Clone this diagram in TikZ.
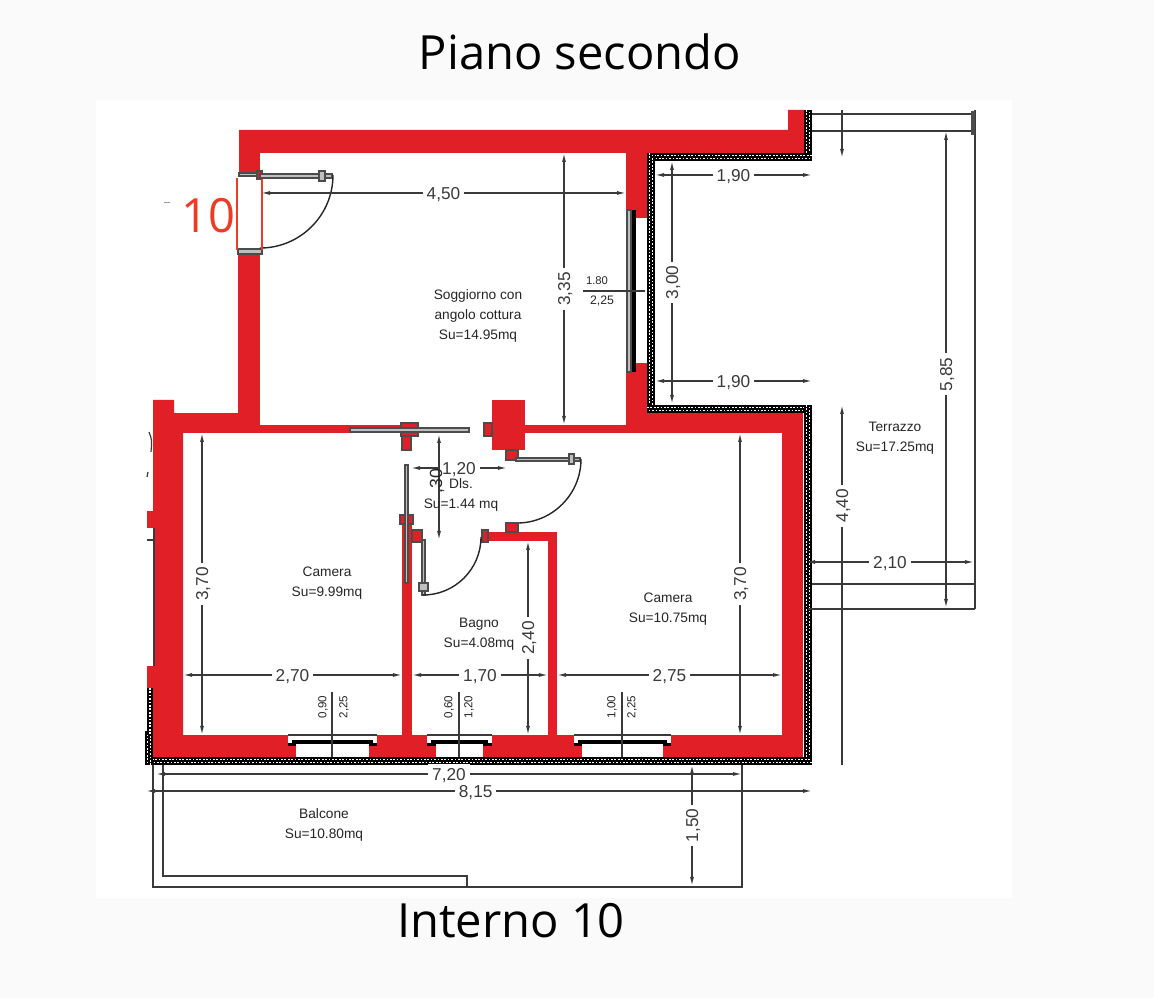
\documentclass[tikz,border=0pt]{standalone}
\usepackage{fontspec}
\setmainfont{Liberation Sans}
\newfontfamily\titlefont{Open Sans}
\usetikzlibrary{arrows.meta}
\definecolor{wallred}{HTML}{E01F26}
\definecolor{inkdark}{HTML}{3A3A3A}
\definecolor{tenred}{HTML}{EE3B24}
\newcommand{\hatchh}[3]{%
  \fill[black] (#1,#3-4) rectangle (#2,#3+4);
  \draw[hatchdot] (#1,#3-1.6) -- (#2,#3-1.6);
  \draw[hatchdot,dash phase=.017cm] (#1,#3+1.6) -- (#2,#3+1.6);}
\newcommand{\hatchv}[3]{%
  \fill[black] (#3-4,#1) rectangle (#3+4,#2);
  \draw[hatchdot] (#3-1.6,#1) -- (#3-1.6,#2);
  \draw[hatchdot,dash phase=.017cm] (#3+1.6,#1) -- (#3+1.6,#2);}
\begin{document}
\begin{tikzpicture}[
    x=0.01cm, y=-0.01cm,
    every node/.style={align=center},
    hatchdot/.style={draw=white, line width=.017cm, dash pattern=on .017cm off .017cm},
    wall/.style={fill=wallred},
    jamb/.style={fill=wallred, draw=black!70, line width=.012cm},
    doorleaf/.style={fill=black!25, draw=black!70, line width=.012cm},
    swing/.style={draw=black!85, line width=.014cm},
    glass/.style={draw=black, line width=.035cm},
    railing/.style={draw=inkdark, line width=.014cm},
    dimline/.style={draw=inkdark, line width=.013cm, {Latex[length=.09cm,width=.04cm]}-{Latex[length=.09cm,width=.04cm]}},
    halfdim/.style={draw=inkdark, line width=.013cm, -{Latex[length=.09cm,width=.04cm]}},
    thinline/.style={draw=inkdark, line width=.012cm},
    dimtext/.style={fill=white, inner sep=.04cm, text depth=0pt, text=inkdark, font=\fontsize{4.9}{6}\selectfont},
    smalltext/.style={text=black!85, inner sep=0pt, rotate=90, font=\fontsize{3.3}{4}\selectfont},
    roomtext/.style={text=black!85, inner sep=0pt, font=\fontsize{3.9}{5.6}\selectfont},
    titletext/.style={inner sep=0pt, font=\titlefont\fontsize{13.4}{16}\selectfont},
    ]
\useasboundingbox (0,0) rectangle (1154,998);
\fill[black!2] (0,0) rectangle (1154,998);
\fill[white] (96,100) rectangle (1012,898);
\node[titletext] (pianoTitle) at (580,52) {Piano secondo};
\node[titletext] (internoTitle) at (511,921) {Interno 10};
\hatchv{110}{161}{808}
\hatchh{647}{812}{157}
\hatchv{153}{413}{651}
\hatchh{647}{812}{409}
\hatchv{405}{765}{808}
\hatchh{145}{812}{761}
\hatchv{731}{765}{149}
\fill[black] (147,688) rectangle (153,735);
\draw[hatchdot] (150,688) -- (150,735);
\fill[wall] (239,130) -- (788,130) -- (788,110) -- (804,110) -- (804,153) -- (239,153) -- cycle;
\fill[wall] (239,130) rectangle (260,173);
\fill[wall] (238,252) rectangle (260,433);
\fill[wall] (174,413) rectangle (260,433);
\fill[wall] (260,425) rectangle (410,433);
\fill[wall] (153,400) -- (174,400) -- (174,420) -- (183,433) -- (183,757) -- (153,757) -- cycle;
\fill[wall] (147,511) rectangle (153,528);
\fill[wall] (147,666) rectangle (153,688);
\fill[wall] (626,153) rectangle (647,218);
\fill[wall] (626,363) rectangle (647,433);
\fill[wall] (525,425) rectangle (647,433);
\fill[wall] (647,413) rectangle (803,433);
\fill[wall] (782,413) rectangle (803,757);
\fill[wall] (153,735) rectangle (803,757);
\fill[wall] (402,517) rectangle (412,735);
\fill[wall] (548,532) rectangle (557,735);
\fill[wall] (482,532) rectangle (557,541);
\fill[wall] (492,400) rectangle (525,450);
\fill[white] (288,735) rectangle (377,745);
\fill[white] (296,745) rectangle (369,757);
\fill[white] (427,735) rectangle (492,745);
\fill[white] (436,745) rectangle (483,757);
\fill[white] (574,735) rectangle (671,745);
\fill[white] (582,745) rectangle (663,757);
\draw[glass] (292,742) -- (373,742);
\draw[glass] (431,742) -- (488,742);
\draw[glass] (578,742) -- (667,742);
\fill[black] (288,743) rectangle (296,746);
\fill[black] (369,743) rectangle (377,746);
\fill[black] (427,743) rectangle (436,746);
\fill[black] (483,743) rectangle (492,746);
\fill[black] (574,743) rectangle (582,746);
\fill[black] (663,743) rectangle (671,746);
\draw[thinline] (288,735) -- (377,735);
\draw[thinline] (427,735) -- (492,735);
\draw[thinline] (574,735) -- (671,735);
\draw[doorleaf] (627,210) rectangle (631,372);
\draw[glass] (634,210) -- (634,372);
\draw[doorleaf] (239,173) rectangle (260,176);
\draw[doorleaf] (238,249) rectangle (262,254);
\draw[jamb] (257,171) rectangle (262,179);
\draw[doorleaf] (260,174) rectangle (332,178);
\draw[doorleaf] (319,171) rectangle (325,181);
\draw[swing] (333,175) arc[start angle=0, end angle=-90, radius=.73cm];
\draw[tenred, line width=.012cm] (237,178) -- (237,250);
\draw[tenred, line width=.012cm] (262,179) -- (262,250);
\node[inner sep=0pt, text=tenred, font=\titlefont\fontsize{13.4}{16}\selectfont] (doorNumber) at (208,216) {10};
\draw[black!40, line width=.01cm] (164,203) -- (170,203);
\draw[jamb] (401,423) rectangle (418,436);
\draw[jamb] (402,436) rectangle (411,450);
\draw[doorleaf] (350,428) rectangle (469,432);
\draw[jamb] (484,423) rectangle (492,436);
\draw[jamb] (506,450) rectangle (518,460);
\draw[doorleaf] (516,458) rectangle (580,461);
\draw[doorleaf] (569,454) rectangle (574,464);
\draw[swing] (581,459) arc[start angle=0, end angle=-90, radius=.64cm];
\draw[jamb] (506,523) rectangle (518,532);
\draw[jamb] (482,530) rectangle (488,542);
\draw[jamb] (400,515) rectangle (413,524);
\draw[jamb] (412,530) rectangle (422,542);
\draw[doorleaf] (405,465) rectangle (408,583);
\draw[doorleaf] (422,540) rectangle (425,595);
\draw[doorleaf] (419,583) rectangle (428,591);
\draw[swing] (481,537) arc[start angle=0, end angle=-90, radius=.58cm];
\draw[thinline] (149,432) .. controls (152,440) .. (151,452);
\draw[thinline] (148,472) -- (147,477);
\draw[thinline] (154,528) -- (154,666);
\draw[thinline] (147,540) -- (153,540);
\draw[railing] (812,114) -- (972,114);
\draw[railing] (812,131) -- (972,131);
\draw[railing] (975,110) -- (975,609);
\draw[railing] (812,584) -- (975,584);
\draw[railing] (808,609) -- (975,609);
\fill[black!70] (971,111) rectangle (975,135);
\draw[railing] (153,765) -- (153,887) -- (742,887) -- (742,765);
\draw[railing] (163,765) -- (163,876) -- (467,876) -- (467,887);
\draw[dimline] (261,193) -- node[dimtext] {4,50} (626,193);
\draw[dimline] (564,153) -- node[dimtext, rotate=90] {3,35} (564,425);
\draw[dimline] (672,161) -- node[dimtext, rotate=90, pos=.5] {3,00} (672,404);
\draw[dimline] (655,175) -- node[dimtext] {1,90} (812,175);
\draw[dimline] (655,381) -- node[dimtext] {1,90} (812,381);
\draw[dimline] (946,131) -- node[dimtext, rotate=90, pos=.51] {5,85} (946,608);
\draw[halfdim] (842,110) -- (842,158);
\draw[halfdim] (842,765) -- node[dimtext, rotate=90, pos=.72] {4,40} (842,405);
\draw[dimline] (806,562) -- node[dimtext] {2,10} (974,562);
\draw[dimline] (692,765) -- node[dimtext, rotate=90] {1,50} (692,886);
\draw[dimline] (156,774) -- node[dimtext, pos=.50] {7,20} (742,774);
\draw[dimline] (146,791) -- node[dimtext, pos=.495] {8,15} (812,791);
\draw[dimline] (183,675) -- node[dimtext] {2,70} (402,675);
\draw[dimline] (412,675) -- node[dimtext] {1,70} (548,675);
\draw[dimline] (557,675) -- node[dimtext] {2,75} (782,675);
\draw[dimline] (202,433) -- node[dimtext, rotate=90] {3,70} (202,735);
\draw[dimline] (740,433) -- node[dimtext, rotate=90] {3,70} (740,735);
\draw[dimline] (528,541) -- node[dimtext, rotate=90] {2,40} (528,735);
\draw[dimline] (411,468) -- node[dimtext, pos=.5] {1,20} (507,468);
\draw[dimline] (439,434) -- (439,540);
\node[smalltext, font=\fontsize{5}{6}\selectfont] (doorHeight) at (437,481) {,30};
\draw[thinline] (583,291) -- (645,291);
\node[roomtext, font=\fontsize{3.2}{4}\selectfont] (windowOne) at (597,281) {1.80};
\node[roomtext, font=\fontsize{3.5}{4}\selectfont] (windowTwo) at (602,301) {2,25};
\draw[thinline] (332,692) -- (332,757);
\draw[thinline] (459,692) -- (459,757);
\draw[thinline] (622,692) -- (622,757);
\node[smalltext] (leftWidth) at (323,707) {0,90};
\node[smalltext] (leftHeight) at (344,707) {2,25};
\node[smalltext] (midWidth) at (449,707) {0,60};
\node[smalltext] (midHeight) at (469,707) {1,20};
\node[smalltext] (rightWidth) at (612,707) {1,00};
\node[smalltext] (rightHeight) at (632,707) {2,25};
\node[roomtext] (soggiorno) at (478,316) {Soggiorno con\\angolo cottura\\Su=14.95mq};
\node[roomtext] (cameraLeft) at (327,583) {Camera\\Su=9.99mq};
\node[roomtext] (bagno) at (479,634) {Bagno\\Su=4.08mq};
\node[roomtext] (cameraRight) at (668,609) {Camera\\Su=10.75mq};
\node[roomtext] (terrazzo) at (895,438) {Terrazzo\\Su=17.25mq};
\node[roomtext] (balcone) at (324,825) {Balcone\\Su=10.80mq};
\node[roomtext] (disimpegno) at (461,495) {Dls.\\Su=1.44 mq};
\end{tikzpicture}
\end{document}
